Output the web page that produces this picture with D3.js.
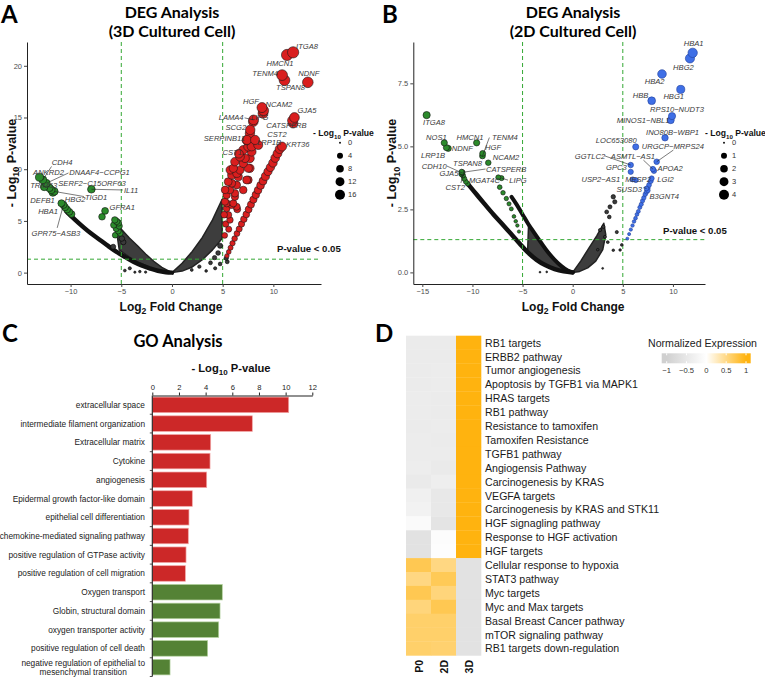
<!DOCTYPE html>
<html>
<head>
<meta charset="utf-8">
<script src="https://cdn.jsdelivr.net/npm/d3@7"></script>
<style>
  body { margin: 0; background: #fff; }
  svg { display: block; font-family: "Liberation Sans", Arial, sans-serif; }
</style>
</head>
<body>
<svg id="fig" width="765" height="678"></svg>
<script>
// ---------- Panel A : DEG 3D cultured cell ----------
var aTicksX = [-10, -5, 0, 5, 10];
var aTicksY = [0, 5, 10, 15, 20];
var aLegend = [0, 4, 8, 12, 16];
var aUpGenes = [["ITGA8", 11.95, 21.3], ["HMCN1", 11.35, 21.05], ["TENM4", 10.86, 19.1], ["TSPAN8", 11.1, 18.6],
  ["NDNF", 13.4, 18.4], ["HGF", 8.88, 15.96], ["NCAM2", 9.04, 15.67], ["LIPG", 8.98, 15.4], ["LAMA4", 8.05, 14.77],
  ["GJA5", 12.08, 15.0], ["CATSPERB", 11.88, 14.7], ["CST2", 11.95, 14.45], ["SCG2", 7.72, 13.8],
  ["SERPINB11", 7.4, 12.83], ["LRP1B", 8.2, 12.83], ["KRT36", 10.86, 12.19], ["CST1", 6.6, 11.5]];
var aUpOther = [[8.02, 14.6], [7.69, 13.47], [7.37, 12.8], [8.51, 12.34], [7.52, 12.18], [7.03, 11.86], [7.86, 11.69],
  [6.71, 11.2], [7.69, 11.05], [6.21, 10.73], [7.03, 10.57], [6.05, 10.09], [6.71, 9.92], [7.69, 10.09], [5.89, 9.44],
  [6.54, 9.27], [7.52, 8.96], [5.55, 8.79], [6.38, 8.47], [5.72, 7.99], [7.03, 7.99], [5.39, 7.5], [6.21, 7.34],
  [5.23, 6.86], [5.89, 6.54], [6.38, 6.37], [5.39, 6.22], [5.57, 5.58], [6.44, 6.12], [5.4, 6.7], [6.05, 6.7],
  [5.72, 5.09], [6.21, 7.67], [7.37, 8.96], [7.52, 10.1], [7.2, 11.06], [7.86, 12.2], [5.24, 8.0], [5.74, 9.93],
  [6.4, 9.6], [5.9, 8.64], [5.15, 5.6], [5.3, 4.7], [5.6, 4.2], [5.2, 3.6]];
var aUpLine = [[10.62, 11.95], [10.41, 11.52], [10.18, 11.08], [9.96, 10.61], [9.71, 10.18], [9.47, 9.77], [9.22, 9.31],
  [8.98, 8.86], [8.74, 8.43], [8.49, 7.97], [8.27, 7.52], [8.03, 7.06], [7.79, 6.58], [7.56, 6.11], [7.33, 5.63],
  [7.09, 5.17], [6.86, 4.7], [6.63, 4.22], [6.41, 3.78], [6.18, 3.29], [5.97, 2.84], [5.78, 2.41], [5.6, 2.0], [5.42, 1.62]];
var aDownGenes = [["ANKRD2", -13.07, 9.23], ["CDH4", -12.74, 8.97], ["DNAAF4−CCPG1", -12.4, 8.64], ["TRIM63", -12.6, 8.3],
  ["SERF2−C15ORF63", -12.1, 8.2], ["DEFB1", -11.9, 8.0], ["HBG2", -11.75, 7.74], ["TIGD1", -11.6, 7.85],
  ["HBA1", -10.9, 6.7], ["GPR75−ASB3", -10.7, 6.55], ["IL11", -7.95, 8.06], ["GFRA1", -6.6, 5.97]];
var aDownOther = [[-10.55, 6.32], [-10.35, 6.1], [-10.12, 5.88], [-9.9, 5.66], [-6.9, 5.4], [-5.64, 5.1], [-5.45, 4.95],
  [-5.28, 4.8], [-5.75, 4.6], [-5.2, 4.5], [-5.5, 4.25], [-5.3, 4.02], [-5.12, 3.8], [-5.6, 3.62]];
var aNsPoints = [[-4.65, 0.2], [-3.66, 0.04], [-3.17, 0.1], [-4.16, 0.42], [-2.6, 0.05], [3.37, 0.16], [4.26, 0.42],
  [4.75, 0.84], [5.35, 1.39], [2.7, 0.58], [1.95, 0.26], [4.75, 2.6], [4.55, 1.9], [4.2, 1.45], [3.8, 0.95],
  [-4.95, 3.3], [-4.8, 2.95], [5.45, 1.05], [-5.8, 2.5]];
var aCurves = [[[-10.4, 5.9], [-9.6, 5.15], [-8.8, 4.45], [-8.0, 3.8], [-7.1, 3.16], [-6.3, 2.58], [-5.5, 2.03],
  [-4.6, 1.5], [-3.8, 1.06], [-3.0, 0.7], [-2.2, 0.42], [-1.4, 0.18], [-0.6, 0.04], [0, 0]]];
var aClouds = [
  [[-5.6, 4.9], [-4.9, 4.1], [-4.2, 3.35], [-3.4, 2.6], [-2.6, 1.8], [-1.8, 1.1], [-1.0, 0.5], [0, 0], [-1.2, 0.2],
   [-2.2, 0.5], [-3.2, 0.95], [-4.2, 1.5], [-5.2, 2.2]],
  [[0, 0], [1.0, 0.9], [2.0, 2.05], [3.0, 3.4], [4.0, 5.1], [4.95, 7.1], [4.95, 3.3], [4.0, 2.2], [3.0, 1.25],
   [2.0, 0.55], [1.0, 0.15]]];

// ---------- Panel B : DEG 2D cultured cell ----------
var bTicksX = [-15, -10, -5, 0, 5, 10];
var bTicksY = [0, 2.5, 5, 7.5];
var bLegend = [0, 1, 2, 3, 4];
var bUpGenes = [["HBA1", 11.97, 8.71], ["HBG2", 11.7, 8.49], ["HBA2", 8.91, 7.87], ["HBG1", 10.78, 7.26],
  ["HBB", 7.88, 6.81], ["RPS10−NUDT3", 9.91, 6.2], ["MINOS1−NBL1", 9.78, 6.04], ["INO80B−WBP1", 9.21, 5.34],
  ["LOC653080", 6.29, 4.98], ["URGCP−MRPS24", 8.38, 4.39], ["APOA2", 8.11, 4.03], ["GGTLC2", 5.79, 4.26],
  ["ASMTL−AS1", 8.0, 4.1], ["GPC3", 5.79, 3.99], ["USP2−AS1", 5.99, 3.69], ["MESP2", 6.3, 3.66],
  ["LGI2", 7.88, 3.73], ["SUSD3", 7.36, 3.33], ["B3GNT4", 7.5, 3.25]];
var bUpOther = [];
var bUpLine = [[7.78, 3.62], [7.62, 3.47], [7.5, 3.35], [7.37, 3.2], [7.24, 3.1], [7.1, 2.96], [6.97, 2.84],
  [6.84, 2.7], [6.7, 2.58], [6.55, 2.42], [6.41, 2.3], [6.27, 2.15], [6.12, 2.02], [5.97, 1.86], [5.8, 1.7],
  [5.63, 1.52], [5.45, 1.34]];
var bDownGenes = [["ITGA8", -14.57, 6.24], ["NOS1", -12.81, 5.14], ["NDNF", -12.41, 4.92], ["LRP1B", -12.6, 4.95],
  ["HMCN1", -9.58, 5.14], ["TENM4", -9.0, 4.62], ["HGF", -8.98, 4.72], ["NCAM2", -8.42, 4.35],
  ["TSPAN8", -11.08, 3.99], ["CDH10", -11.05, 3.95], ["CATSPERB", -11.0, 3.97], ["GJA5", -11.1, 3.9],
  ["CST2", -10.95, 3.85], ["MGAT4C", -7.42, 3.77], ["LIPG", -7.1, 3.74]];
var bDownOther = [[-10.82, 3.72], [-10.66, 3.6], [-10.48, 3.52], [-7.28, 3.38], [-6.95, 3.16], [-6.62, 2.93],
  [-6.35, 2.72], [-6.12, 2.52], [-5.86, 2.22], [-5.68, 2.03], [-5.52, 1.86], [-5.36, 1.62]];
var bNsPoints = [[2.99, 0.16], [4.05, 0.88], [-3.26, 0.01], [-2.59, 0.02], [4.05, 3.0], [4.2, 2.8], [3.72, 2.6],
  [3.39, 2.4], [3.65, 2.2], [3.06, 1.81], [2.73, 1.68], [3.22, 1.41], [4.73, 0.89], [4.9, 1.09], [3.5, 1.2],
  [2.5, 0.9], [4.4, 1.6]];
var bCurves = [
  [[-10.4, 3.48], [-9.6, 3.1], [-8.8, 2.72], [-7.9, 2.3], [-7.1, 1.95], [-6.2, 1.55], [-5.3, 1.15], [-4.5, 0.8],
   [-3.6, 0.5], [-2.7, 0.28], [-1.8, 0.13], [-0.9, 0.04], [0, 0]],
  [[-6.1, 3.0], [-5.6, 2.7], [-5.0, 2.3], [-4.4, 1.9], [-3.8, 1.55], [-3.1, 1.15], [-2.5, 0.82], [-1.8, 0.5],
   [-1.1, 0.24], [-0.5, 0.07], [0, 0]]];
var bClouds = [
  [[-4.4, 1.9], [-3.8, 1.55], [-3.1, 1.15], [-2.5, 0.82], [-1.8, 0.5], [-1.1, 0.24], [0, 0], [-0.9, 0.04],
   [-1.8, 0.13], [-2.7, 0.28], [-3.6, 0.5], [-4.5, 0.8]],
  [[0, 0], [0.8, 0.45], [1.6, 0.95], [2.4, 1.45], [3.1, 1.95], [3.3, 1.5], [3.0, 0.9], [2.3, 0.45], [1.5, 0.18], [0.7, 0.04]]];

// ---------- Panel C : GO analysis ----------
var goTerms = ["extracellular space", "intermediate filament organization", "Extracellular matrix", "Cytokine",
  "angiogenesis", "Epidermal growth factor-like domain", "epithelial cell differentiation",
  "chemokine-mediated signaling pathway", "positive regulation of GTPase activity",
  "positive regulation of cell migration", "Oxygen transport", "Globin, structural domain",
  "oxygen transporter activity", "positive regulation of cell death",
  "negative regulation of epithelial to mesenchymal transition"];
var goValues = [10.23, 7.5, 4.38, 4.33, 4.08, 3.0, 2.75, 2.7, 2.53, 2.48, 5.25, 5.08, 4.98, 4.15, 1.33];
var goGroup = ["up", "up", "up", "up", "up", "up", "up", "up", "up", "up", "down", "down", "down", "down", "down"];
var goTicks = [0, 2, 4, 6, 8, 10, 12];

// ---------- Panel D : heatmap ----------
var pathways = ["RB1 targets", "ERBB2 pathway", "Tumor angiogenesis", "Apoptosis by TGFB1 via MAPK1", "HRAS targets",
  "RB1 pathway", "Resistance to tamoxifen", "Tamoxifen Resistance", "TGFB1 pathway", "Angiogensis Pathway",
  "Carcinogenesis by KRAS", "VEGFA targets", "Carcinogenesis by KRAS and STK11", "HGF signagling pathway",
  "Response to HGF activation", "HGF targets", "Cellular response to hypoxia", "STAT3 pathway", "Myc targets",
  "Myc and Max targets", "Basal Breast Cancer pathway", "mTOR signaling pathway", "RB1 targets down-regulation"];
var samples = ["P0", "2D", "3D"];
var p0Values = [-0.42, -0.42, -0.42, -0.42, -0.4, -0.4, -0.42, -0.4, -0.4, -0.38, -0.45, -0.32, -0.28, -0.1,
  -0.62, -0.62, 0.72, 0.52, 0.72, 0.55, 0.62, 0.62, 0.62];
var d2Values = [-0.42, -0.42, -0.4, -0.4, -0.42, -0.42, -0.4, -0.42, -0.4, -0.45, -0.36, -0.48, -0.48, -0.58,
  -0.06, -0.04, 0.52, 0.7, 0.55, 0.72, 0.62, 0.62, 0.6];
var d3Values = [1, 1, 1, 1, 1, 1, 1, 1, 1, 1, 1, 1, 1, 1, 1, 1, -0.62, -0.62, -0.62, -0.62, -0.62, -0.62, -0.62];
var legendTicks = [-1, -0.5, 0, 0.5, 1];

// ---------- layout: label offsets (px from the point) ----------
// [dx, dy, anchor, leaderDx, leaderDy]
var aLabelPos = {
  "ITGA8": [3, -3, "start"], "HMCN1": [-7, 11, "middle"], "TENM4": [-4, 1, "end"], "TSPAN8": [6, 10, "middle"],
  "NDNF": [1, -6, "middle"], "HGF": [-3, -4, "end"], "NCAM2": [2, -4, "start"], "LIPG": [-12, 7, "start"],
  "LAMA4": [-10, 0, "end", -9, -2], "GJA5": [3, -4, "start"], "CATSPERB": [-6, 7.5, "middle"],
  "CST2": [-6.5, 14, "end"], "SCG2": [-4, 0, "end"], "SERPINB11": [-2, 1, "end"], "LRP1B": [2, 5, "start"],
  "KRT36": [4, 0.5, "start"], "CST1": [3, 1.5, "end"],
  "ANKRD2": [9, -2, "middle"], "CDH4": [9, -15, "start", 8.7, -13.4], "DNAAF4−CCPG1": [23, -8, "start", 22.2, -10.3],
  "TRIM63": [-14, 1.2, "start"], "SERF2−C15ORF63": [9, -1.5, "start"], "DEFB1": [-21, 13, "start"],
  "HBG2": [12, 9.4, "start"], "TIGD1": [30.6, 8.3, "start", 29.6, 5.1], "HBA1": [-3.5, 10.7, "end"],
  "GPR75−ASB3": [-32, 31, "start", -6.3, 23], "IL11": [32.6, 3.7, "start", 31.5, 0.7], "GFRA1": [4.5, -1, "start"]
};
var bLabelPos = {
  "HBA1": [1, -6.5, "middle"], "HBG2": [-6.5, 12, "middle"], "HBA2": [-7.4, 10, "middle"], "HBG1": [-7, 10, "middle"],
  "HBB": [-3.3, -2.7, "end"], "RPS10−NUDT3": [5, -3.8, "middle"], "MINOS1−NBL1": [-1.3, 3, "end"],
  "INO80B−WBP1": [7.5, -2.5, "middle"], "LOC653080": [1, -4, "end"], "URGCP−MRPS24": [-15, -13.2, "start", 16.7, -11.7],
  "APOA2": [3.4, 0, "start"], "GGTLC2": [-25.6, -6, "end", -25.6, -9], "ASMTL−AS1": [-42, -10, "start", -9.5, -9],
  "GPC3": [-4, -2, "end"], "USP2−AS1": [-12.6, 2.6, "end"], "MESP2": [-10.7, 2, "start"], "LGI2": [5.7, 3.6, "start"],
  "SUSD3": [-4.6, 3.5, "end", -3, -1], "B3GNT4": [1.6, 8.2, "start"],
  "ITGA8": [-3.6, 9.6, "start"], "NOS1": [2.5, -3, "end"], "NDNF": [3.5, 3, "start"], "LRP1B": [-1.4, 10.4, "end"],
  "HMCN1": [-6.6, -3, "middle"], "TENM4": [9.6, -16.2, "start", 6.9, -18.4], "HGF": [2.4, -3.7, "start"],
  "NCAM2": [4.5, -2.4, "start"], "TSPAN8": [-8.6, -5.5, "start"], "CDH10": [-15.2, -4, "end", -15, -6.8],
  "CATSPERB": [23.6, -0.3, "start", 23.1, -3.3], "GJA5": [-3, 2.2, "end"], "CST2": [2, 14.3, "end", -2, 7.6],
  "MGAT4C": [1.7, 5.6, "end"], "LIPG": [7.8, 4.9, "start", 6.5, 2]
};

var svg = d3.select("#fig");
var titleFont = "Lato, 'Open Sans', sans-serif";

function richText(g, x, y, parts, size, anchor, rotate) {
  var t = g.append("text").attr("x", x).attr("y", y)
    .attr("font-size", size).attr("font-weight", "bold")
    .attr("text-anchor", anchor || "start").attr("fill", "#111");
  if (rotate) t.attr("transform", "rotate(" + rotate + "," + x + "," + y + ")");
  var shift = 0;
  parts.forEach(function(p) {
    var isSub = p.charAt(0) === "_";
    var s = t.append("tspan").text(isSub ? p.slice(1) : p);
    if (isSub) { s.attr("font-size", size * 0.72).attr("dy", size * 0.3); shift = size * 0.3; }
    else if (shift) { s.attr("dy", -shift); shift = 0; }
  });
  return t;
}

function panelLetter(x, y, s) {
  svg.append("text").attr("x", x).attr("y", y).attr("font-family", titleFont)
    .attr("font-weight", "bold").attr("font-size", 24).attr("fill", "#000").text(s);
}

function drawVolcano(o) {
  var g = svg.append("g");
  var x = o.x, y = o.y;
  var open = d3.line().x(function(d) { return x(d[0]); }).y(function(d) { return y(d[1]); }).curve(d3.curveCatmullRom);
  var closed = d3.line().x(function(d) { return x(d[0]); }).y(function(d) { return y(d[1]); }).curve(d3.curveLinearClosed);

  // dense regions of overlapping non-significant points
  o.clouds.forEach(function(c) {
    g.append("path").attr("d", closed(c)).attr("fill", "#222").attr("fill-opacity", 0.88)
      .attr("stroke", "#222").attr("stroke-width", 1.5).attr("stroke-linejoin", "round");
  });
  o.curves.forEach(function(c, i) {
    g.append("path").attr("d", open(c)).attr("fill", "none").attr("stroke", "#111")
      .attr("stroke-width", i === 0 ? 4.5 : 4).attr("stroke-linecap", "round");
  });

  // thresholds
  var dash = "#34a834";
  [-5, 5].forEach(function(v) {
    g.append("line").attr("x1", x(v)).attr("x2", x(v)).attr("y1", y.range()[1]).attr("y2", y.range()[0])
      .attr("stroke", dash).attr("stroke-width", 1).attr("stroke-dasharray", "4,3");
  });
  g.append("line").attr("x1", x.range()[0]).attr("x2", x.range()[1]).attr("y1", y(1.3)).attr("y2", y(1.3))
    .attr("stroke", dash).attr("stroke-width", 1).attr("stroke-dasharray", "4,3");

  // points
  function dots(data, fill, stroke) {
    var sorted = data.slice().sort(function(a, b) { return a[a.length - 1] - b[b.length - 1]; });
    g.append("g").selectAll("circle").data(sorted).enter().append("circle")
      .attr("cx", function(d) { return x(d[d.length - 2]); })
      .attr("cy", function(d) { return y(d[d.length - 1]); })
      .attr("r", function(d) { return o.r(d[d.length - 1]); })
      .attr("fill", fill).attr("stroke", stroke).attr("stroke-width", 0.6);
  }
  dots(o.ns, "#3a3a3a", "#000");
  dots(o.upLine, o.upColor, o.upStroke);
  dots(o.downOther, o.downColor, "#111");
  dots(o.upOther, o.upColor, o.upStroke);
  dots(o.downGenes, o.downColor, "#111");
  dots(o.upGenes, o.upColor, o.upStroke);

  // gene labels
  var lg = g.append("g");
  o.upGenes.concat(o.downGenes).forEach(function(d) {
    var p = o.labels[d[0]];
    if (!p) return;
    var px = x(d[1]), py = y(d[2]);
    if (p.length > 3) {
      lg.append("line").attr("x1", px).attr("y1", py).attr("x2", px + p[3]).attr("y2", py + p[4])
        .attr("stroke", "#222").attr("stroke-width", 0.6);
    }
    lg.append("text").attr("x", px + p[0]).attr("y", py + p[1]).attr("text-anchor", p[2])
      .attr("font-size", 7.6).attr("font-style", "italic").attr("fill", "#3a3a3a").text(d[0]);
  });

  // axes
  var xa = g.append("g").attr("transform", "translate(0," + y.range()[0] + ")")
    .call(d3.axisBottom(x).tickValues(o.xt).tickSize(3).tickPadding(2).tickSizeOuter(0));
  var ya = g.append("g").attr("transform", "translate(" + x.range()[0] + ",0)")
    .call(d3.axisLeft(y).tickValues(o.yt).tickFormat(d3.format(o.yfmt)).tickSize(3).tickPadding(2).tickSizeOuter(0));
  [xa, ya].forEach(function(a) {
    a.select(".domain").attr("stroke", "#222").attr("stroke-width", 1);
    a.selectAll(".tick line").attr("stroke", "#444");
    a.selectAll(".tick text").attr("font-size", 7.5).attr("fill", "#4d4d4d").attr("font-family", "Liberation Sans, Arial, sans-serif");
  });

  // titles
  var cx = o.titleX;
  g.append("text").attr("x", cx).attr("y", 17.5).attr("text-anchor", "middle").attr("font-family", titleFont)
    .attr("font-weight", "bold").attr("font-size", 16).text("DEG Analysis");
  g.append("text").attr("x", cx).attr("y", 36.5).attr("text-anchor", "middle").attr("font-family", titleFont)
    .attr("font-weight", "bold").attr("font-size", 16).text(o.subtitle);
  richText(g, (x.range()[0] + x.range()[1]) / 2 + o.xlabShift, 310.5, ["Log", "_2", " Fold Change"], 12, "middle");
  richText(g, o.ylabX, (y.range()[0] + y.range()[1]) / 2, ["- Log", "_10", " P-value"], 12.5, "middle", -90);
  g.append("text").attr("x", o.pvX).attr("y", o.pvY).attr("font-size", 9.6).attr("font-weight", "bold")
    .attr("fill", "#111").text("P-value < 0.05");

  // size legend
  richText(g, o.legTitleX, 136, ["- Log", "_10", " P-value"], 8.6, "start");
  o.legend.forEach(function(v, i) {
    var ly = 142.7 + i * 13;
    g.append("circle").attr("cx", o.legX).attr("cy", ly).attr("r", o.legR(v)).attr("fill", "#000");
    g.append("text").attr("x", o.legX + 8).attr("y", ly + 2.6).attr("font-size", 7.5).attr("fill", "#333").text(v);
  });
}

// ---- Panel A
var axA = d3.scaleLinear().domain([-14.3, 14.7]).range([27, 321]);
var ayA = d3.scaleLinear().domain([-1.1, 22.3]).range([284, 42]);
var arA = d3.scaleSqrt().domain([0, 21.3]).range([0.94, 5.64]);
drawVolcano({
  x: axA, y: ayA, r: arA, legR: arA, xt: aTicksX, yt: aTicksY, yfmt: "d", legend: aLegend,
  curves: aCurves, clouds: aClouds, ns: aNsPoints, upLine: aUpLine, upOther: aUpOther, upGenes: aUpGenes,
  downOther: aDownOther, downGenes: aDownGenes, labels: aLabelPos,
  upColor: "#d91e1e", upStroke: "#1a1a1a", downColor: "#2b8a2b",
  titleX: 172, subtitle: "(3D Cultured Cell)", xlabShift: -3, ylabX: 15.5, pvX: 277, pvY: 252,
  legX: 340, legTitleX: 313
});
panelLetter(1, 23, "A");

// ---- Panel B
var axB = d3.scaleLinear().domain([-15.9, 13.2]).range([413.3, 705]);
var ayB = d3.scaleLinear().domain([-0.46, 9.14]).range([284, 42]);
var arB = d3.scaleLinear().domain([0, 8.71]).range([0.9, 4.7]);
var lrB = d3.scaleSqrt().domain([0, 4]).range([0.94, 5.0]);
drawVolcano({
  x: axB, y: ayB, r: arB, legR: lrB, xt: bTicksX, yt: bTicksY, yfmt: ".1f", legend: bLegend,
  curves: bCurves, clouds: bClouds, ns: bNsPoints, upLine: bUpLine, upOther: bUpOther, upGenes: bUpGenes,
  downOther: bDownOther, downGenes: bDownGenes, labels: bLabelPos,
  upColor: "#3f6fe6", upStroke: "#223f99", downColor: "#2b8a2b",
  titleX: 573, subtitle: "(2D Cultured Cell)", xlabShift: 14, ylabX: 396, pvX: 663, pvY: 234,
  legX: 724, legTitleX: 705
});
panelLetter(382, 23, "B");

// ---- Panel C
(function() {
  var g = svg.append("g");
  var x = d3.scaleLinear().domain([0, 12]).range([152.3, 312.3]);
  var y = d3.scaleBand().domain(goTerms).range([395.5, 676.5]).paddingInner(0.17).paddingOuter(0.085);
  g.append("text").attr("x", 178).attr("y", 346.5).attr("text-anchor", "middle").attr("font-family", titleFont)
    .attr("font-weight", "bold").attr("font-size", 16.5).text("GO Analysis");
  richText(g, 231, 371.5, ["- Log", "_10", " P-value"], 11.2, "middle");

  g.selectAll("rect").data(goTerms).enter().append("rect")
    .attr("x", x(0)).attr("y", function(d) { return y(d); })
    .attr("width", function(d, i) { return x(goValues[i]) - x(0); })
    .attr("height", y.bandwidth())
    .attr("fill", function(d, i) { return goGroup[i] === "up" ? "#cc2828" : "#548235"; })
    .attr("stroke", function(d, i) { return goGroup[i] === "up" ? "#f2a6a6" : "#b5d3a0"; })
    .attr("stroke-width", 0.7);

  var ax = g.append("g").attr("transform", "translate(0,395.5)")
    .call(d3.axisTop(x).tickValues(goTicks).tickSize(3).tickPadding(3).tickSizeOuter(0));
  ax.select(".domain").attr("stroke", "#222").attr("stroke-width", 1.1);
  ax.selectAll(".tick line").attr("stroke", "#222");
  ax.selectAll(".tick text").attr("font-size", 7.6).attr("fill", "#222");

  g.append("line").attr("x1", x(0)).attr("x2", x(0)).attr("y1", 395.5).attr("y2", 676.5)
    .attr("stroke", "#222").attr("stroke-width", 1.1);
  d3.range(1, goTerms.length + 1).forEach(function(i) {
    var yy = i < goTerms.length ? y(goTerms[i]) - y.step() * y.paddingInner() / 2 : 676.5;
    g.append("line").attr("x1", x(0) - 2.5).attr("x2", x(0)).attr("y1", yy).attr("y2", yy)
      .attr("stroke", "#222").attr("stroke-width", 0.8);
  });

  goTerms.forEach(function(t) {
    var cy = y(t) + y.bandwidth() / 2;
    var lab = g.append("text").attr("font-size", 8.3).attr("fill", "#222").attr("dominant-baseline", "central");
    var cut = t.indexOf(" to ");
    if (cut > 0) {
      var l1 = t.slice(0, cut + 3), l2 = t.slice(cut + 4);
      lab.attr("x", 145).attr("y", cy - 4.3).attr("text-anchor", "end").text(l1);
      var w = lab.node().getComputedTextLength();
      g.append("text").attr("font-size", 8.3).attr("fill", "#222").attr("dominant-baseline", "central")
        .attr("x", 145 - w / 2).attr("y", cy + 4.5).attr("text-anchor", "middle").text(l2);
    } else {
      lab.attr("x", 145).attr("y", cy).attr("text-anchor", "end").text(t);
    }
  });
})();
panelLetter(2, 342, "C");

// ---- Panel D
(function() {
  var g = svg.append("g");
  var x = d3.scaleBand().domain(samples).range([406, 481]);
  var y = d3.scaleBand().domain(pathways).range([335.7, 655.4]);
  var color = d3.scaleLinear().domain([-1, 0, 1]).range(["#d0d0d0", "#ffffff", "#ffb30f"]);
  var cols = [p0Values, d2Values, d3Values];
  samples.forEach(function(s, j) {
    g.append("g").selectAll("rect").data(pathways).enter().append("rect")
      .attr("x", x(s)).attr("y", function(d) { return y(d); })
      .attr("width", x.bandwidth() + 0.3).attr("height", y.bandwidth() + 0.3)
      .attr("fill", function(d, i) { return color(cols[j][i]); });
  });
  g.selectAll("text.row").data(pathways).enter().append("text").attr("class", "row")
    .attr("x", 485).attr("y", function(d) { return y(d) + y.bandwidth() / 2; })
    .attr("dominant-baseline", "central").attr("font-size", 10.6).attr("fill", "#1a1a1a").text(function(d) { return d; });
  samples.forEach(function(s) {
    var cx = x(s) + x.bandwidth() / 2 + 4.5;
    g.append("text").attr("x", cx).attr("y", 660).attr("transform", "rotate(-90," + cx + ",660)")
      .attr("text-anchor", "end").attr("font-weight", "bold").attr("font-size", 10.5).attr("fill", "#111").text(s);
  });

  // colour legend
  g.append("text").attr("x", 648).attr("y", 347).attr("font-size", 10.6).attr("fill", "#222").text("Normalized Expression");
  var lx = d3.scaleLinear().domain([-1, 1]).range([666.7, 746]);
  var grad = svg.append("defs").append("linearGradient").attr("id", "ne").attr("x1", 0).attr("x2", 1);
  d3.range(-1, 1.01, 0.25).forEach(function(v) {
    grad.append("stop").attr("offset", ((lx(v) - 661.7) / 89) * 100 + "%").attr("stop-color", color(v));
  });
  g.append("rect").attr("x", 661.7).attr("y", 353.3).attr("width", 89).attr("height", 10).attr("fill", "url(#ne)");
  legendTicks.forEach(function(v) {
    g.append("line").attr("x1", lx(v)).attr("x2", lx(v)).attr("y1", 353.3).attr("y2", 355.3).attr("stroke", "#fff");
    g.append("line").attr("x1", lx(v)).attr("x2", lx(v)).attr("y1", 361.3).attr("y2", 363.3).attr("stroke", "#fff");
    g.append("text").attr("x", lx(v)).attr("y", 372.5).attr("text-anchor", "middle").attr("font-size", 7.6)
      .attr("fill", "#333").text(d3.format("")(v));
  });
})();
panelLetter(375, 342, "D");
</script>
</body>
</html>
